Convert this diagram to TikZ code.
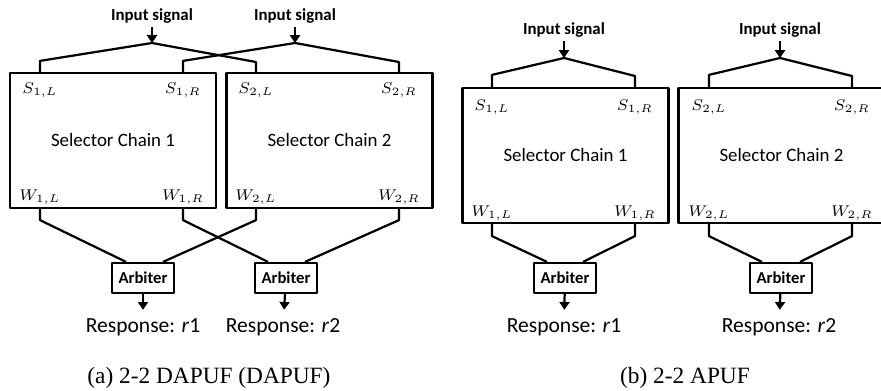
\documentclass[tikz,border=0pt]{standalone}
\usepackage{fontspec}
\setmainfont{Liberation Serif}
\setsansfont{Carlito}
\usepackage{tikz}
\usetikzlibrary{arrows.meta,positioning,calc}

\begin{document}
\begin{tikzpicture}[x=0.45pt, y=-0.45pt, line width=1pt, line join=round, >={Triangle[width=4.5pt,length=3.5pt]}]
\tikzset{
chain/.style    = {draw, shape=rectangle, inner sep=0pt, minimum width=92.7pt, minimum height=60.75pt, font=\sffamily\fontsize{8.5}{10}\selectfont},
arb/.style      = {draw, shape=rectangle, inner sep=0pt, minimum width=27.9pt, minimum height=13.5pt, font=\sffamily\bfseries\fontsize{7.5}{9}\selectfont},
sig/.style      = {inner sep=1pt, font=\sffamily\bfseries\fontsize{7.6}{9}\selectfont},
resp/.style     = {font=\sffamily\fontsize{9.7}{11}\selectfont},
port/.style     = {inner sep=0pt, font=\fontsize{7}{8}\selectfont},
subcap/.style   = {font=\fontsize{10.5}{12}\selectfont},
coord/.style    = {coordinate},
}
    \useasboundingbox (0,0) rectangle (881,391);
    \clip (0,0) rectangle (881,391);

    % (a) Chain nodes
    \node [chain]   (a_chain1) at (113, 140.5)   {Selector Chain 1};
    \node [chain]   (a_chain2) at (329.5, 140.5) {Selector Chain 2};

    % (a) Port labels
    \node [port] (a_s1l) at (40, 90)   {$S_{1,L}$};
    \node [port] (a_s1r) at (183, 90)  {$S_{1,R}$};
    \node [port] (a_s2l) at (256, 90)  {$S_{2,L}$};
    \node [port] (a_s2r) at (399, 90)  {$S_{2,R}$};
    \node [port] (a_w1l) at (40, 197)  {$W_{1,L}$};
    \node [port] (a_w1r) at (183, 197) {$W_{1,R}$};
    \node [port] (a_w2l) at (256, 197) {$W_{2,L}$};
    \node [port] (a_w2r) at (399, 197) {$W_{2,R}$};

    % (a) Input nodes
    \node [sig]     (a_in1) at (152, 16)  {Input signal};
    \node [sig]     (a_in2) at (295, 16)  {Input signal};
    \node [coord]   (a_top1) at (152, 43) {};
    \node [coord]   (a_top2) at (295, 43) {};

    % (a) Input edges
    \draw [->] (a_in1) -- (a_top1);
    \draw [->] (a_in2) -- (a_top2);
    \draw (a_chain1.north -| a_s1l) -- ++(0,-11) -- (a_top1) -- (256, 62) -- (a_chain2.north -| a_s2l);
    \draw (a_chain1.north -| a_s1r) -- ++(0,-11) -- (a_top2) -- (399, 62) -- (a_chain2.north -| a_s2r);

    % (a) Arbiter nodes
    \node [arb]     (a_arb1) at (143, 278)   {Arbiter};
    \node [arb]     (a_arb2) at (286, 278)   {Arbiter};
    \node [resp]    (a_r1)   at (143, 327)   {Response: \textit{r}1};
    \node [resp]    (a_r2)   at (283, 327)   {Response: \textit{r}2};

    % (a) Arbiter edges
    \draw (a_chain1.south -| a_w1l) -- ++(0,11) -- ($(a_arb1.north)+(-17,0)$);
    \draw (a_chain2.south -| a_w2l) -- ++(0,11) -- ($(a_arb1.north)+(20,0)$);
    \draw (a_chain1.south -| a_w1r) -- ++(0,11) -- ($(a_arb2.north)+(-18,0)$);
    \draw (a_chain2.south -| a_w2r) -- ++(0,11) -- ($(a_arb2.north)+(19,0)$);
    \draw [->] (a_arb1) -- (a_r1);
    \draw [->] (a_arb2) -- (a_r2);

    \node [subcap] (a_cap) at (209, 378) {(a) 2-2 DAPUF (DAPUF)};

    % (b) Chain nodes
    \node [chain]   (b_chain1) at (565.5, 155.5) {Selector Chain 1};
    \node [chain]   (b_chain2) at (781.5, 155.5) {Selector Chain 2};

    % (b) Port labels
    \node [port] (b_s1l) at (492, 107) {$S_{1,L}$};
    \node [port] (b_s1r) at (635, 107) {$S_{1,R}$};
    \node [port] (b_s2l) at (709, 107) {$S_{2,L}$};
    \node [port] (b_s2r) at (852, 107) {$S_{2,R}$};
    \node [port] (b_w1l) at (492, 213) {$W_{1,L}$};
    \node [port] (b_w1r) at (635, 213) {$W_{1,R}$};
    \node [port] (b_w2l) at (709, 213) {$W_{2,L}$};
    \node [port] (b_w2r) at (852, 213) {$W_{2,R}$};

    % (b) Input nodes
    \node [sig]     (b_in1) at (564, 30)  {Input signal};
    \node [sig]     (b_in2) at (780, 30)  {Input signal};
    \node [coord]   (b_top1) at (564, 58) {};
    \node [coord]   (b_top2) at (780, 58) {};

    % (b) Input edges
    \draw [->] (b_in1) -- (b_top1);
    \draw [->] (b_in2) -- (b_top2);
    \draw (b_chain1.north -| b_s1l) -- ++(0,-12) -- (b_top1) -- (635, 76) -- (b_chain1.north -| b_s1r);
    \draw (b_chain2.north -| b_s2l) -- ++(0,-12) -- (b_top2) -- (852, 76) -- (b_chain2.north -| b_s2r);

    % (b) Arbiter nodes
    \node [arb]     (b_arb1) at (565, 278)   {Arbiter};
    \node [arb]     (b_arb2) at (781, 278)   {Arbiter};
    \node [resp]    (b_r1)   at (564, 327)   {Response: \textit{r}1};
    \node [resp]    (b_r2)   at (779, 327)   {Response: \textit{r}2};

    % (b) Arbiter edges
    \draw (b_chain1.south -| b_w1l) -- ++(0,12) -- ($(b_arb1.north)+(-18,0)$);
    \draw (b_chain1.south -| b_w1r) -- ++(0,12) -- ($(b_arb1.north)+(18,0)$);
    \draw (b_chain2.south -| b_w2l) -- ++(0,12) -- ($(b_arb2.north)+(-19,0)$);
    \draw (b_chain2.south -| b_w2r) -- ++(0,12) -- ($(b_arb2.north)+(19,0)$);
    \draw [->] (b_arb1) -- (b_r1);
    \draw [->] (b_arb2) -- (b_r2);

    \node [subcap] (b_cap) at (685, 378) {(b) 2-2 APUF};
\end{tikzpicture}
\end{document}
